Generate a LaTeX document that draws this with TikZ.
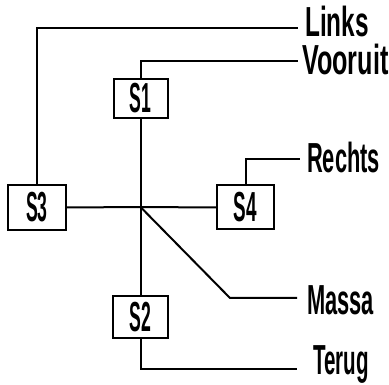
\documentclass[tikz,border=0pt]{standalone}
\usepackage{fontspec}
\setmainfont{Liberation Sans}
\begin{document}
\begin{tikzpicture}[x=1pt,y=-1pt,
  wire/.style={line width=2pt},
  switchbox/.style={draw,line width=2pt,inner sep=0pt,font=\fontsize{42}{42}\selectfont\bfseries},
  tag/.style={anchor=base west,inner sep=0pt,font=\fontsize{42}{42}\selectfont\bfseries}]
\useasboundingbox (0,0) rectangle (389,385);
% switches
\node[switchbox,minimum width=54pt,minimum height=39pt] (s1) at (140.5,98.5) {\scalebox{0.42}[1]{S1}};
\node[switchbox,minimum width=55pt,minimum height=42pt] (s2) at (140.5,317) {\scalebox{0.42}[1]{S2}};
\node[switchbox,minimum width=58pt,minimum height=45pt] (s3) at (37,207.5) {\scalebox{0.42}[1]{S3}};
\node[switchbox,minimum width=57pt,minimum height=44pt] (s4) at (245.5,207.5) {\scalebox{0.45}[1]{S4}};
% common junction
\coordinate (j) at (140.5,207);
% wire labels
\node[tag] (links) at (305,37) {\scalebox{0.58}[1]{Links}};
\node[tag] (vooruit) at (302,75) {\scalebox{0.60}[1]{Vooruit}};
\node[tag] (rechts) at (307,173) {\scalebox{0.52}[1]{Rechts}};
\node[tag] (massa) at (307,315) {\scalebox{0.52}[1]{Massa}};
\node[tag] (terug) at (313,375) {\scalebox{0.49}[1]{Terug}};
% free wire ends
\coordinate (elinks) at (298,28);
\coordinate (evooruit) at (298,61);
\coordinate (erechts) at (300,159);
\coordinate (emassa) at (297,298);
\coordinate (eterug) at (297,369);
\coordinate (kmassa) at (230,298);
% wiring
\draw[wire] (s3.north) |- (elinks);
\draw[wire] (s1.north) |- (evooruit);
\draw[wire] (s4.north) |- (erechts);
\draw[wire] (s2.south) |- (eterug);
\draw[wire] (s1.south) -- (j) -- (s2.north);
\draw[wire] (s3.east) -- (j) -- (s4.west);
\draw[wire] (j) -- (kmassa) -- (emassa);
\end{tikzpicture}
\end{document}
